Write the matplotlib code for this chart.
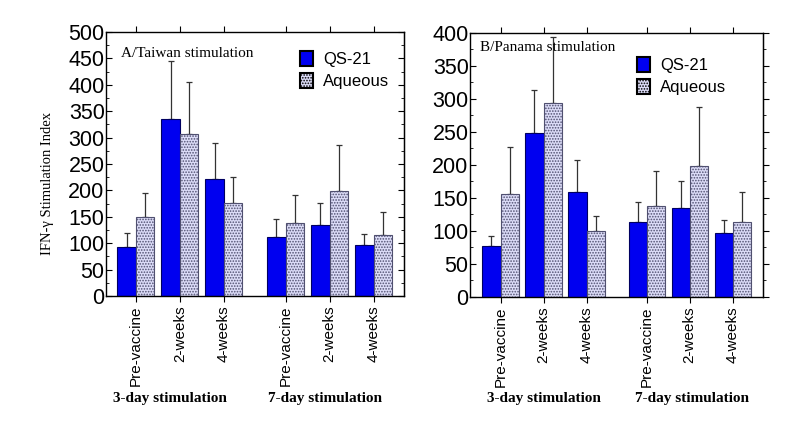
import numpy as np
import matplotlib
matplotlib.use("Agg")
import matplotlib.pyplot as plt
from matplotlib.patches import Patch
from matplotlib.ticker import MultipleLocator

# data
tick_labels = ["Pre-vaccine", "2-weeks", "4-weeks", "Pre-vaccine", "2-weeks", "4-weeks"]
group_labels = ["3-day stimulation", "7-day stimulation"]
series_names = ["QS-21", "Aqueous"]

taiwan_qs = [93, 336, 221, 112, 135, 96]
taiwan_qs_err = [26, 110, 69, 33, 42, 21]
taiwan_aq = [149, 307, 177, 138, 198, 115]
taiwan_aq_err = [46, 99, 48, 53, 89, 44]

panama_qs = [77, 248, 158, 113, 135, 96]
panama_qs_err = [15, 66, 49, 30, 41, 20]
panama_aq = [155, 293, 100, 137, 198, 114]
panama_aq_err = [72, 100, 23, 53, 89, 44]

SANS = "Liberation Sans"
SERIF = "Liberation Serif"
QS_COLOR = "#0000f0"
AQ_COLOR = "#dcdcf8"

plt.rcParams["hatch.color"] = "#a4a4dc"
plt.rcParams["hatch.linewidth"] = 0.8

pos = np.array([0, 1, 2, 3.4, 4.4, 5.4])
width = 0.42

fig = plt.figure(figsize=(8, 4.23), dpi=100)


def panel(rect, qs, qs_err, aq, aq_err, ymax, xlim, title, title_xy, leg_xy, right_dir):
    ax = fig.add_axes(rect)
    ax.bar(pos - width / 2, qs, width, color=QS_COLOR, edgecolor="#000060", linewidth=0.8, zorder=2)
    ax.bar(pos + width / 2, aq, width, color=AQ_COLOR, edgecolor="#505070", linewidth=0.8,
           hatch="......", zorder=2)
    ax.errorbar(pos - width / 2, qs, yerr=[np.zeros(6), qs_err], fmt="none", ecolor="#333333",
                elinewidth=0.9, capsize=2, capthick=0.9, zorder=1)
    ax.errorbar(pos + width / 2, aq, yerr=[np.zeros(6), aq_err], fmt="none", ecolor="#333333",
                elinewidth=0.9, capsize=2, capthick=0.9, zorder=1)
    ax.set_xlim(*xlim)
    ax.set_ylim(0, ymax)
    ax.set_xticks(pos)
    ax.set_xticklabels(tick_labels, rotation=90, fontsize=11, family=SANS)
    ax.yaxis.set_major_locator(MultipleLocator(50))
    ax.yaxis.set_minor_locator(MultipleLocator(25))
    ax.tick_params(axis="x", direction="out", length=4, top=True, pad=3)
    ax.tick_params(axis="y", which="major", direction="in", length=4, pad=1, labelsize=15.5)
    ax.tick_params(axis="y", which="minor", direction="in", length=2.5)
    for lab in ax.get_yticklabels():
        lab.set_family(SANS)
    # ticks on the right spine
    sec = ax.secondary_yaxis("right")
    sec.yaxis.set_major_locator(MultipleLocator(50))
    sec.yaxis.set_minor_locator(MultipleLocator(25))
    sec.tick_params(which="major", direction=right_dir, length=4, labelright=False)
    sec.tick_params(which="minor", direction=right_dir, length=2.5)
    for s in ax.spines.values():
        s.set_linewidth(1.0)
    ax.text(title_xy[0], title_xy[1], title, transform=ax.transAxes, fontsize=11,
            family=SERIF, va="center", ha="left")
    handles = [Patch(facecolor=QS_COLOR, edgecolor="black", linewidth=1.5),
               Patch(facecolor=AQ_COLOR, edgecolor="black", linewidth=1.5, hatch="......")]
    ax.legend(handles, series_names, loc="upper left", bbox_to_anchor=leg_xy, frameon=False,
              borderpad=0, borderaxespad=0, handlelength=0.8, handleheight=1.05,
              handletextpad=0.6, labelspacing=0.35, prop={"family": SANS, "size": 12})
    return ax


panel([0.1325, 0.3002, 0.3725, 0.624], taiwan_qs, taiwan_qs_err, taiwan_aq, taiwan_aq_err,
      500, (-0.68, 6.09), "A/Taiwan stimulation", (0.05, 0.92), (0.651, 0.93), "in")
panel([0.5875, 0.2985, 0.366, 0.624], panama_qs, panama_qs_err, panama_aq, panama_aq_err,
      400, (-0.71, 6.1), "B/Panama stimulation", (0.034, 0.946), (0.57, 0.91), "out")

fig.text(48 / 800, 1 - 183 / 423, "IFN-\u03b3 Stimulation Index", rotation=90, ha="center",
         va="center", fontsize=10.5, family=SERIF)
for x, lab in zip([170, 325, 544, 692], group_labels * 2):
    fig.text(x / 800, 1 - 398 / 423, lab, ha="center", va="center", fontsize=11,
             family=SERIF, fontweight="bold")

fig.savefig("out.png", dpi=100, facecolor="white")
